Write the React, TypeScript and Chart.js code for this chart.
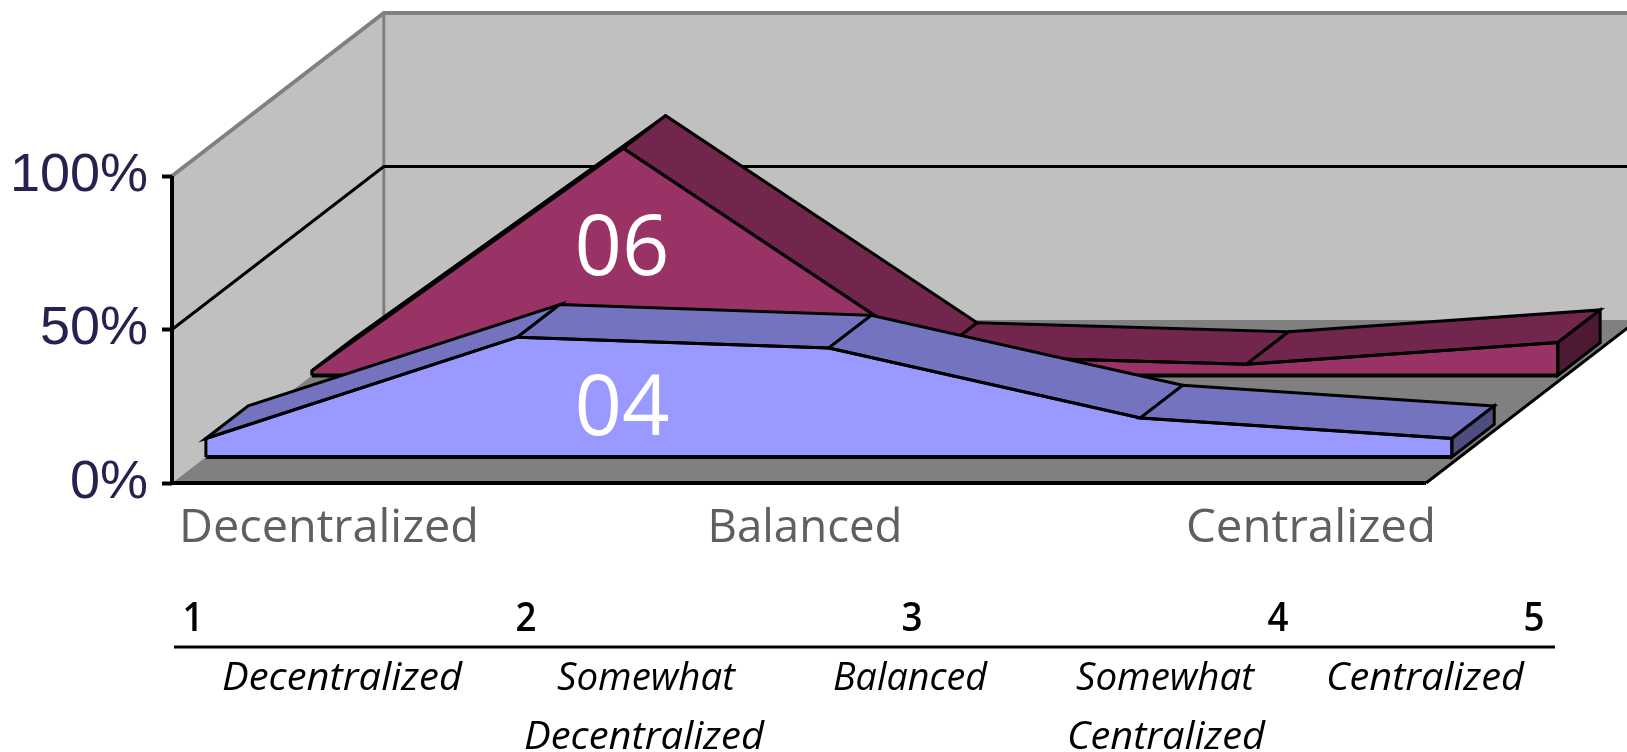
import React, { useEffect, useRef } from "react";
import { Chart, registerables } from "chart.js";

Chart.register(...registerables);

// ---- data ----
const categories = [1, 2, 3, 4, 5];
const series04 = [6, 39, 35.5, 12.7, 6];
const series06 = [1.5, 74, 6.5, 3.6, 10.7];
const seriesNames = ["04", "06"];
const yTicks = [0, 50, 100];
const scaleLabels = ["Decentralized", "Balanced", "Centralized"];
const rowOne = ["Decentralized", "Somewhat", "Balanced", "Somewhat", "Centralized"];
const rowTwo = ["Decentralized", "Centralized"];

// ---- 3D projection: one unit of depth, in axis units ----
const DEPTH_X = 0.68;
const DEPTH_Y = 53.1;
const RIBBON = 0.2;
const X_FLOOR = 5.026;
const X_SCALE_MAX = 5.671;
const Y_SCALE_MAX = 157.33;
const DEPTH04 = 0.16;
const DEPTH06 = 0.66;

const WALL = "#c0c0c0";
const FLOOR = "#808080";
const BLUE = { front: "#9999ff", top: "#7373bf", side: "#4d4d80" };
const PLUM = { front: "#993366", top: "#73264d", side: "#4d1933" };

function project(chart: any, cat: number, val: number, depth: number): [number, number] {
  return [
    chart.scales.x.getPixelForValue(cat + depth * DEPTH_X),
    chart.scales.y.getPixelForValue(val + depth * DEPTH_Y),
  ];
}

function poly(ctx: any, pts: [number, number][], fill: string | null, stroke: string | null, lw = 3) {
  ctx.beginPath();
  pts.forEach((p, i) => (i ? ctx.lineTo(p[0], p[1]) : ctx.moveTo(p[0], p[1])));
  ctx.closePath();
  if (fill) {
    ctx.fillStyle = fill;
    ctx.fill();
  }
  if (stroke) {
    ctx.strokeStyle = stroke;
    ctx.lineWidth = lw;
    ctx.lineJoin = "miter";
    ctx.stroke();
  }
}

function line(ctx: any, pts: [number, number][], stroke: string, lw: number) {
  ctx.beginPath();
  pts.forEach((p, i) => (i ? ctx.lineTo(p[0], p[1]) : ctx.moveTo(p[0], p[1])));
  ctx.strokeStyle = stroke;
  ctx.lineWidth = lw;
  ctx.stroke();
}

function fitText(ctx: any, text: string, cx: number, baseline: number, font: string, color: string, width: number) {
  ctx.save();
  ctx.font = font;
  ctx.fillStyle = color;
  ctx.textAlign = "center";
  ctx.textBaseline = "alphabetic";
  const w = ctx.measureText(text).width;
  ctx.translate(cx, baseline);
  ctx.scale(width / w, 1);
  ctx.fillText(text, 0, 0);
  ctx.restore();
}

function drawRibbon(chart: any, values: number[], depth: number, c: typeof BLUE) {
  const ctx = chart.ctx;
  const back = depth + RIBBON;
  for (let i = 0; i < categories.length - 1; i++) {
    poly(
      ctx,
      [
        project(chart, categories[i], values[i], depth),
        project(chart, categories[i + 1], values[i + 1], depth),
        project(chart, categories[i + 1], values[i + 1], back),
        project(chart, categories[i], values[i], back),
      ],
      c.top,
      "#000",
      3
    );
  }
  const last = categories.length - 1;
  poly(
    ctx,
    [
      project(chart, categories[last], values[last], depth),
      project(chart, categories[last], values[last], back),
      project(chart, categories[last], 0, back),
      project(chart, categories[last], 0, depth),
    ],
    c.side,
    "#000",
    3
  );
}

function frontBase(chart: any, depth: number) {
  line(
    chart.ctx,
    [project(chart, categories[0], 0, depth), project(chart, categories[categories.length - 1], 0, depth)],
    "#000",
    4
  );
}

const scenePlugin = {
  id: "scene",
  beforeDraw(chart: any) {
    const ctx = chart.ctx;
    ctx.save();
    const xa = categories[0];
    const xb = X_FLOOR;
    // back wall
    poly(ctx, [project(chart, xa, 0, 1), project(chart, xb, 0, 1), project(chart, xb, 100, 1), project(chart, xa, 100, 1)], WALL, null);
    // side wall
    poly(ctx, [project(chart, xa, 0, 0), project(chart, xa, 100, 0), project(chart, xa, 100, 1), project(chart, xa, 0, 1)], WALL, null);
    // floor
    poly(ctx, [project(chart, xa, 0, 0), project(chart, xb, 0, 0), project(chart, xb, 0, 1), project(chart, xa, 0, 1)], FLOOR, null);
    // grey frame
    line(ctx, [project(chart, xa, 100, 0), project(chart, xa, 100, 1), project(chart, xb, 100, 1)], FLOOR, 4);
    line(ctx, [project(chart, xa, 100, 1), project(chart, xa, 0, 1)], FLOOR, 3);
    // 50% gridline
    line(ctx, [project(chart, xa, 50, 0), project(chart, xa, 50, 1), project(chart, xb, 50, 1)], "#000", 3);
    // floor edges and the value axis line
    line(ctx, [project(chart, xa, 0, 0), project(chart, xb, 0, 0)], "#000", 4);
    line(ctx, [project(chart, xb, 0, 0), project(chart, xb, 0, 1)], "#000", 3);
    line(ctx, [project(chart, xa, 0, 0), project(chart, xa, 100, 0)], "#000", 4);
    ctx.restore();
  },
  beforeDatasetDraw(chart: any, args: any) {
    if (args.index === 1) drawRibbon(chart, series06, DEPTH06, PLUM);
    if (args.index === 0) drawRibbon(chart, series04, DEPTH04, BLUE);
  },
  afterDatasetDraw(chart: any, args: any) {
    if (args.index === 1) frontBase(chart, DEPTH06);
    if (args.index === 0) frontBase(chart, DEPTH04);
  },
  afterDraw(chart: any) {
    const ctx = chart.ctx;
    ctx.save();
    const sans = "'Open Sans', 'Noto Sans', sans-serif";
    // series names
    fitText(ctx, seriesNames[1], 622, 275, `84px ${sans}`, "#ffffff", 95);
    fitText(ctx, seriesNames[0], 622, 435, `84px ${sans}`, "#ffffff", 95);
    // scale labels
    const grey = "#5f5f5f";
    fitText(ctx, scaleLabels[0], 329, 542, `46px ${sans}`, grey, 300);
    fitText(ctx, scaleLabels[1], 805, 542, `46px ${sans}`, grey, 195);
    fitText(ctx, scaleLabels[2], 1311, 542, `46px ${sans}`, grey, 250);
    // table head
    const heads = [193, 526, 912, 1278, 1534];
    categories.forEach((c, i) => fitText(ctx, String(c), heads[i], 631, `600 40px ${sans}`, "#000", 21));
    line(ctx, [[174, 647], [1555, 647]], "#000", 3);
    // table labels
    const it = `italic 38px ${sans}`;
    const c1 = [342, 646, 910, 1165, 1425];
    const w1 = [240, 178, 154, 178, 198];
    rowOne.forEach((t, i) => fitText(ctx, t, c1[i], 690, it, "#000", w1[i]));
    const c2 = [644, 1166];
    const w2 = [240, 198];
    rowTwo.forEach((t, i) => fitText(ctx, t, c2[i], 749, it, "#000", w2[i]));
    ctx.restore();
  },
};

function frontFace(values: number[], depth: number) {
  const ox = depth * DEPTH_X;
  const oy = depth * DEPTH_Y;
  const first = categories[0] + ox;
  const last = categories[categories.length - 1] + ox;
  return [
    { x: first, y: oy },
    ...categories.map((c, i) => ({ x: c + ox, y: values[i] + oy })),
    { x: last, y: oy },
  ];
}

export default function App() {
  const ref = useRef<HTMLCanvasElement>(null);
  useEffect(() => {
    const chart = new Chart(ref.current as HTMLCanvasElement, {
      type: "line",
      data: {
        datasets: [
          {
            label: seriesNames[0],
            data: frontFace(series04, DEPTH04),
            borderColor: "#000",
            borderWidth: 3,
            backgroundColor: BLUE.front,
            fill: { value: DEPTH04 * DEPTH_Y },
            pointRadius: 0,
            tension: 0,
            clip: false,
          },
          {
            label: seriesNames[1],
            data: frontFace(series06, DEPTH06),
            borderColor: "#000",
            borderWidth: 3,
            backgroundColor: PLUM.front,
            fill: { value: DEPTH06 * DEPTH_Y },
            pointRadius: 0,
            tension: 0,
            clip: false,
          },
        ],
      },
      options: {
        responsive: false,
        animation: false,
        layout: { padding: { left: 0, right: 0, top: 0, bottom: 269 } },
        plugins: { legend: { display: false }, tooltip: { enabled: false }, title: { display: false } },
        scales: {
          x: { type: "linear", display: false, min: categories[0], max: X_SCALE_MAX },
          y: {
            type: "linear",
            min: yTicks[0],
            max: Y_SCALE_MAX,
            afterFit: (s: any) => {
              s.width = 172;
              s.paddingTop = 0;
              s.paddingBottom = 0;
            },
            afterBuildTicks: (s: any) => {
              s.ticks = yTicks.map((v) => ({ value: v }));
            },
            border: { display: false },
            grid: { drawOnChartArea: false, drawTicks: true, tickLength: 10, tickWidth: 4, tickColor: "#000" },
            ticks: {
              padding: 14,
              color: "#2b1f4f",
              font: { family: "'Liberation Sans', Arial, sans-serif", size: 54 },
              callback: (v: any) => `${v}%`,
            },
          },
        },
      },
      plugins: [scenePlugin],
    } as any);
    return () => chart.destroy();
  }, []);
  return (
    <div style={{ position: "fixed", left: 0, top: 0, width: 1627, height: 752, background: "#fff" }}>
      <canvas ref={ref} width={1627} height={752} style={{ display: "block" }} />
    </div>
  );
}
